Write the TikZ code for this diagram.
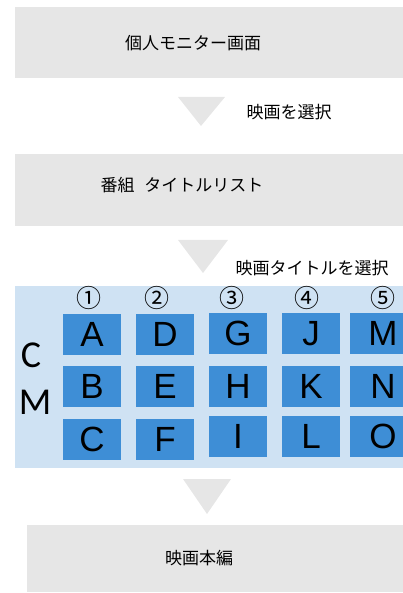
\documentclass[tikz,border=0pt]{standalone}
\usepackage{fontspec}
\setmainfont{Liberation Sans}
\newfontfamily\jpfont{Noto Sans CJK JP}
\newfontfamily\carlitofont{Carlito}
\definecolor{boxgray}{HTML}{E6E6E6}
\definecolor{areablue}{HTML}{CFE2F3}
\definecolor{cellblue}{HTML}{3E8ED6}
\begin{document}
\begin{tikzpicture}[x=1pt,y=-1pt,
  stagebox/.style={fill=boxgray,draw=none},
  jptext/.style={inner sep=0pt,font=\jpfont\fontsize{17}{17}\selectfont,text=black},
  arrowtri/.style={fill=boxgray,draw=none},
  cell/.style={fill=cellblue,draw=none,minimum width=58pt,minimum height=41pt,inner sep=0pt,font=\fontsize{35}{35}\selectfont,text=black},
  colnum/.style={inner sep=0pt,font=\jpfont\fontsize{25}{25}\selectfont},
  cmlabel/.style={inner sep=0pt,font=\carlitofont\fontsize{38}{38}\selectfont}]
\useasboundingbox (0,0) rectangle (403,593);
\clip (0,0) rectangle (403,593);
% stages
\node[stagebox,anchor=north west,minimum width=400pt,minimum height=71pt,inner sep=0pt] (s1) at (15,7) {};
\node[jptext] (t1) at (193,43) {個人モニター画面};
\path[arrowtri] (178,97) coordinate (a1l) -- (225,97) coordinate (a1r) -- (201,126) coordinate (a1t) -- cycle;
\node[jptext] (l1) at (289,112) {映画を選択};
\node[stagebox,anchor=north west,minimum width=400pt,minimum height=72pt,inner sep=0pt] (s2) at (15,154) {};
\node[jptext] (t2) at (182,185) {番組\hspace{10pt}タイトルリスト};
\path[arrowtri] (178,240) coordinate (a2l) -- (228,240) coordinate (a2r) -- (203,273) coordinate (a2t) -- cycle;
\node[jptext] (l2) at (312,268) {映画タイトルを選択};
% CM area
\node[fill=areablue,draw=none,anchor=north west,minimum width=400pt,minimum height=182pt,inner sep=0pt] (area) at (15,286) {};
\node[cmlabel] (cC) at (31,355) {C};
\node[cmlabel] (cM) at (35,402) {M};
\node[colnum] (n1) at (88.5,298) {①};
\node[colnum] (n2) at (157,298) {②};
\node[colnum] (n3) at (232,298) {③};
\node[colnum] (n4) at (307,298) {④};
\node[colnum] (n5) at (383,298) {⑤};
\node[cell] (A) at (92,334.5) {A};
\node[cell] (B) at (92,386.5) {B};
\node[cell] (Cc) at (92,439.5) {C};
\node[cell] (D) at (165,334.5) {D};
\node[cell] (E) at (165,386.5) {E};
\node[cell] (F) at (165,439.5) {F};
\node[cell] (G) at (238,333.5) {G};
\node[cell] (H) at (238,386.5) {H};
\node[cell] (I) at (238,436.5) {I};
\node[cell] (J) at (311,333.5) {J};
\node[cell] (K) at (311,386.5) {K};
\node[cell] (L) at (311,436.5) {L};
\node[cell] (M) at (379,333.5) {\hspace*{8pt}M};
\node[cell] (N) at (379,386.5) {\hspace*{8pt}N};
\node[cell] (O) at (379,436.5) {\hspace*{8pt}O};
% last stage
\path[arrowtri] (183,479) coordinate (a3l) -- (231,479) coordinate (a3r) -- (207,514) coordinate (a3t) -- cycle;
\node[stagebox,anchor=north west,minimum width=390pt,minimum height=67pt,inner sep=0pt] (s3) at (27,525) {};
\node[jptext] (t3) at (199,558) {映画本編};
\end{tikzpicture}
\end{document}
